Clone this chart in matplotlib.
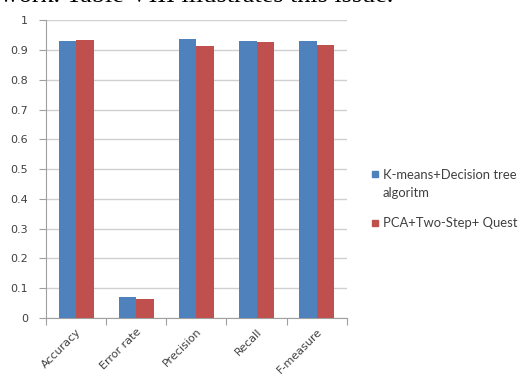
import numpy as np
import matplotlib.pyplot as plt
from matplotlib.patches import Rectangle

# metrics and scores
metrics = ['Accuracy', 'Error rate', 'Precision', 'Recall', 'F-measure']
kmeans_dt = [0.930, 0.070, 0.936, 0.929, 0.930]
pca_quest = [0.935, 0.063, 0.912, 0.925, 0.917]
series_names = ['K-means+Decision tree', 'PCA+Two-Step+ Quest']

blue = '#4f81bd'
red = '#c0504d'
grey = '#a0a0a0'
txt = '#404040'

fig = plt.figure(figsize=(5.23, 3.80), dpi=100)
ax = fig.add_axes([0.088, 0.163, 0.575, 0.784])

# cut-off line of the paper text above the chart
fig.text(0.0, 0.995, 'work. Table VIII illustrates this issue.', family='Liberation Serif',
         fontsize=18.8, ha='left', va='baseline', color='black')

x = np.arange(len(metrics))
w = 0.29
ax.bar(x - w/2, kmeans_dt, w, color=blue, zorder=3)
ax.bar(x + w/2, pca_quest, w, color=red, zorder=3)

ax.set_xlim(-0.5, len(metrics) - 0.5)
ax.set_ylim(0, 1)
ax.set_yticks(np.arange(0, 1.01, 0.1))
ax.set_yticklabels(['0'] + ['%.1f' % v for v in np.arange(0.1, 0.95, 0.1)] + ['1'])
ax.yaxis.grid(True, color='#d0d0d0', linewidth=1.0, zorder=0)

# category ticks between groups like Excel
ax.set_xticks(np.arange(-0.5, len(metrics), 1.0))
ax.set_xticklabels([])
ax.set_xticks(x, minor=True)
ax.set_xticklabels(metrics, minor=True, rotation=45, ha='right', rotation_mode='anchor',
                   fontsize=8, color=txt)
ax.tick_params(axis='x', which='minor', length=0, pad=6)
ax.tick_params(axis='x', which='major', length=5, color=grey)
ax.tick_params(axis='y', length=5, color=grey, labelsize=8, labelcolor=txt, pad=8)

for s in ['top', 'right']:
    ax.spines[s].set_visible(False)
ax.spines['left'].set_color(grey)
ax.spines['bottom'].set_color(grey)

# legend drawn by hand (Excel style, wrapped first label)
W, H = 523.0, 380.0
def fx(px):
    return px / W
def fy(py):
    return 1 - py / H

leg = [(series_names[0], blue, 174.5), (series_names[1], red, 223.0)]
for name, col, py in leg:
    fig.patches.append(Rectangle((fx(372), fy(py + 3)), 6 / W, 6 / H,
                                 transform=fig.transFigure, color=col))
    fig.text(fx(383), fy(py), name, family='Lato', fontsize=9.4, color=txt,
             ha='left', va='center')
fig.text(fx(383), fy(193), 'algoritm', family='Lato', fontsize=9.4, color=txt,
         ha='left', va='center')

plt.savefig('out.png', dpi=100)
